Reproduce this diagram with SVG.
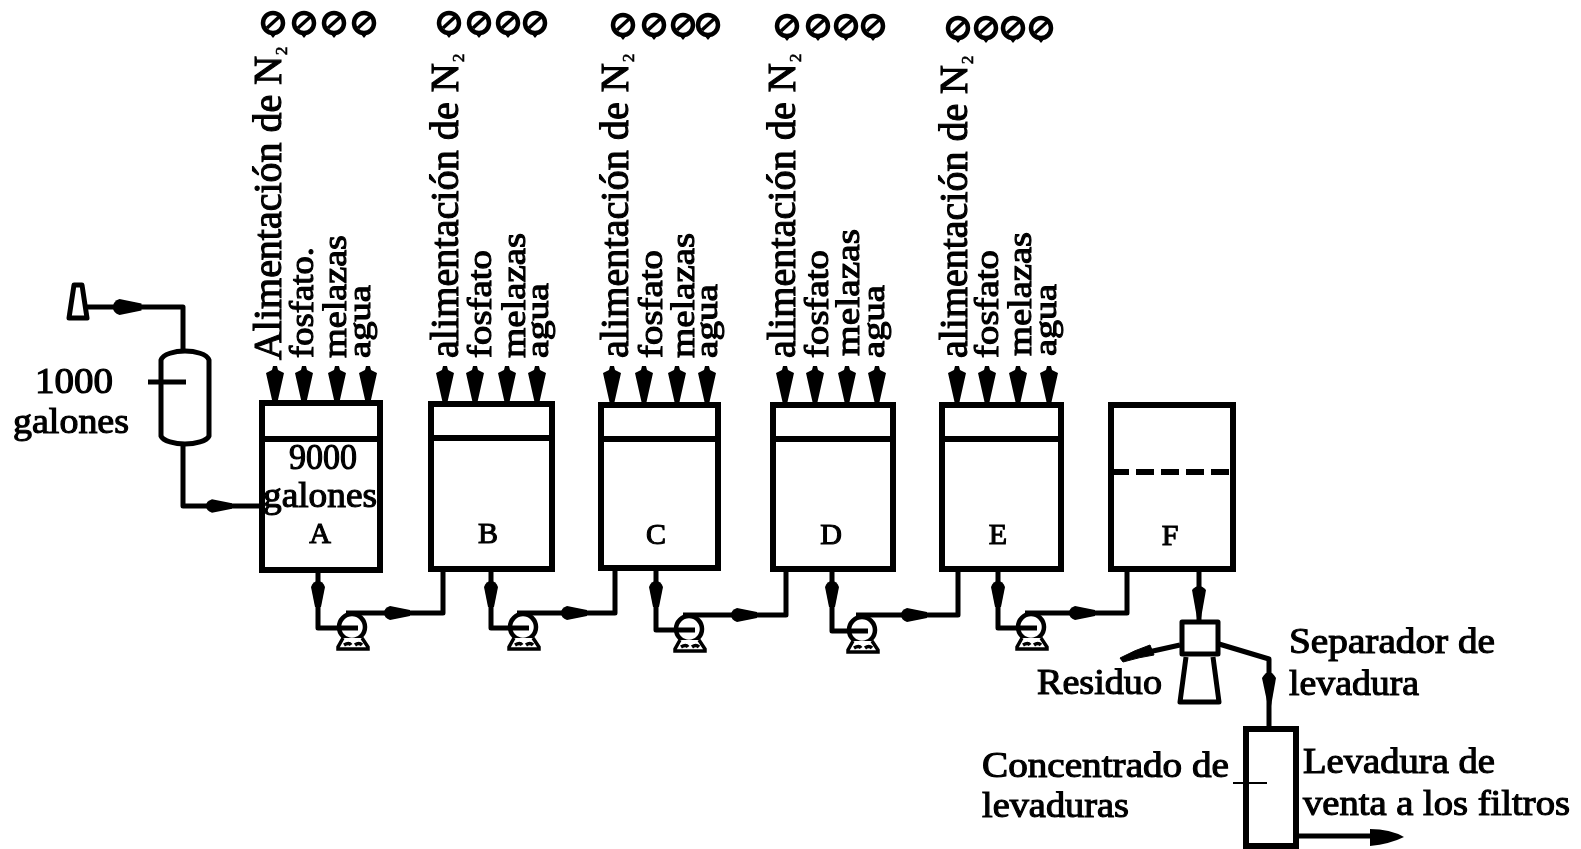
<svg xmlns="http://www.w3.org/2000/svg" width="1581" height="849" viewBox="0 0 1581 849">
<style>
text{font-family:"Liberation Serif","Times New Roman",serif;fill:#000;stroke:#000;stroke-width:1.1}
.a{font-size:39px}.f{font-size:34px}.w{font-size:31px}.l{font-size:35px}.m{text-anchor:middle;font-size:30px}
.s{fill:none;stroke:#000;stroke-width:5;stroke-linejoin:round}
.t{fill:none;stroke:#000;stroke-width:6}
.n{fill:none;stroke:#000;stroke-width:2}
.sub{font-size:28px;stroke-width:.6}
</style>
<defs>
<filter id="b" filterUnits="userSpaceOnUse" x="0" y="0" width="1581" height="849"><feGaussianBlur stdDeviation="0.7"/></filter>
<g id="g"><circle r="10" fill="#fff" stroke="#000" stroke-width="4.5"/><path d="M-6,5L6,-6" stroke="#000" stroke-width="3.5"/><path d="M-4,10L4,10L0,15Z" fill="#000"/></g>
<path id="ad" d="M-2,-37L2,-37L3,-33L9,-30L2.5,-1L-2.5,-1L-9,-30L-3,-33Z" fill="#000"/>
<path id="h" d="M-7,-5Q-5,-11 0,-11Q5,-11 7,-5L3,15H-3Z" fill="#000"/>
<g id="p"><circle r="13" fill="none" stroke="#000" stroke-width="4.5"/><path d="M-9,11L-14,20V22H16V20L10,11M-8,18Q-3,15 -1,18M3,18Q7,15 10,18" fill="#fff" stroke="#000" stroke-width="3.5"/></g>
</defs>
<g filter="url(#b)">
<rect width="1581" height="849" fill="#fff"/>
<g id="connectors">
<path class="s" d="M87,307H183V350"/><use href="#h" transform="translate(125,307) rotate(-90) scale(1.15,1.1)"/>
<path class="s" d="M183,446V506H262"/><use href="#h" transform="translate(217,506) rotate(-90) scale(.95,1)"/>
<path class="s" d="M318,570V628H358"/><use href="#h" transform="translate(318,592)"/>
<path class="s" d="M346,613H443V570"/><use href="#h" transform="translate(395,613) rotate(-90)"/>
<path class="s" d="M491,570V628H529"/><use href="#h" transform="translate(491,592)"/>
<path class="s" d="M517,613H615V570"/><use href="#h" transform="translate(572,613) rotate(-90)"/>
<path class="s" d="M656,570V630H695"/><use href="#h" transform="translate(656,592)"/>
<path class="s" d="M683,615H786V570"/><use href="#h" transform="translate(742,615) rotate(-90)"/>
<path class="s" d="M832,570V631H868"/><use href="#h" transform="translate(832,592)"/>
<path class="s" d="M856,615H958V570"/><use href="#h" transform="translate(912,615) rotate(-90)"/>
<path class="s" d="M998,570V628H1037"/><use href="#h" transform="translate(998,592)"/>
<path class="s" d="M1025,613H1127V570"/><use href="#h" transform="translate(1080,613) rotate(-90)"/>
<path class="s" d="M1199,570V620"/><path d="M1192,590Q1199,582 1206,590L1201,618H1197Z" fill="#000"/>
<path class="s" d="M1180,645L1135,655"/><path d="M1120,658Q1135,650 1150,645L1154,655Q1140,657 1123,662Z" fill="#000" stroke="#000" stroke-width="1"/>
<path class="s" d="M1219,644L1269,659V727"/><path d="M1262,678Q1269,666 1276,678L1271,706H1268Z" fill="#000"/>
<path class="s" d="M1296,836H1375"/><path d="M1370,829Q1390,829 1404,837Q1390,844 1370,846Z" fill="#000"/>
<g id="feeds">
<use href="#ad" x="275" y="403"/><use href="#ad" x="304" y="403"/><use href="#ad" x="337" y="403"/><use href="#ad" x="368" y="403"/>
<use href="#ad" x="445" y="403"/><use href="#ad" x="475" y="403"/><use href="#ad" x="507" y="403"/><use href="#ad" x="537" y="403"/>
<use href="#ad" x="612" y="403"/><use href="#ad" x="644" y="403"/><use href="#ad" x="677" y="403"/><use href="#ad" x="707" y="403"/>
<use href="#ad" x="785" y="403"/><use href="#ad" x="815" y="403"/><use href="#ad" x="847" y="403"/><use href="#ad" x="877" y="403"/>
<use href="#ad" x="957" y="403"/><use href="#ad" x="987" y="403"/><use href="#ad" x="1018" y="403"/><use href="#ad" x="1049" y="403"/>
</g>
</g>
<g id="source"><path class="s" d="M74,285H82L87,318H69Z"/></g>
<g id="vessel"><path class="s" d="M161,360C163,354 175,351 185,351C195,351 207,354 209,360V436C207,441 195,444 185,444C175,444 163,441 161,436Z"/><path class="s" d="M148,382H186"/>
<text class="l" x="35" y="393" textLength="78" lengthAdjust="spacingAndGlyphs">1000</text><text class="l" x="13" y="433" textLength="116" lengthAdjust="spacingAndGlyphs">galones</text></g>
<g id="tank-A"><rect class="t" x="262" y="403" width="118" height="167"/><path class="t" d="M262,439H380"/>
<text class="l" x="289" y="469" textLength="68" lengthAdjust="spacingAndGlyphs">9000</text><text class="l" x="263" y="507" textLength="114" lengthAdjust="spacingAndGlyphs">galones</text><text class="m" x="320" y="543">A</text></g>
<g id="tank-B"><rect class="t" x="431" y="404" width="121" height="165"/><path class="t" d="M431,438H552"/><text class="m" x="488" y="543">B</text></g>
<g id="tank-C"><rect class="t" x="601" y="405" width="117" height="163"/><path class="t" d="M601,439H718"/><text class="m" x="656" y="544">C</text></g>
<g id="tank-D"><rect class="t" x="773" y="405" width="120" height="164"/><path class="t" d="M773,439H893"/><text class="m" x="831" y="544">D</text></g>
<g id="tank-E"><rect class="t" x="942" y="405" width="119" height="164"/><path class="t" d="M942,439H1061"/><text class="m" x="998" y="544">E</text></g>
<g id="tank-F"><rect class="t" x="1111" y="405" width="122" height="164"/><path class="t" d="M1111,472H1233" stroke-dasharray="18 7"/><text class="m" x="1170" y="545">F</text></g>
<g id="pumps"><use href="#p" x="352" y="627"/><use href="#p" x="523" y="627"/><use href="#p" x="689" y="629"/><use href="#p" x="862" y="630"/><use href="#p" x="1031" y="627"/></g>
<g id="gauges-A"><use href="#g" x="273" y="23"/><use href="#g" x="304" y="23"/><use href="#g" x="334" y="23"/><use href="#g" x="364" y="23"/></g>
<g id="gauges-B"><use href="#g" x="449" y="23"/><use href="#g" x="479" y="23"/><use href="#g" x="508" y="23"/><use href="#g" x="535" y="23"/></g>
<g id="gauges-C"><use href="#g" x="623" y="25"/><use href="#g" x="654" y="25"/><use href="#g" x="683" y="25"/><use href="#g" x="708" y="25"/></g>
<g id="gauges-D"><use href="#g" x="787" y="26"/><use href="#g" x="818" y="26"/><use href="#g" x="846" y="26"/><use href="#g" x="873" y="26"/></g>
<g id="gauges-E"><use href="#g" x="958" y="28"/><use href="#g" x="986" y="28"/><use href="#g" x="1013" y="28"/><use href="#g" x="1041" y="28"/></g>
<g id="labels-A">
<text class="a" transform="translate(281,360) rotate(-90)" textLength="314" lengthAdjust="spacingAndGlyphs">Alimentación de N<tspan class="sub">₂</tspan></text>
<text class="f" transform="translate(313,358) rotate(-90)" textLength="111" lengthAdjust="spacingAndGlyphs">fosfato.</text>
<text class="f" transform="translate(346,358) rotate(-90)" textLength="123" lengthAdjust="spacingAndGlyphs">melazas</text>
<text class="w" transform="translate(370,358) rotate(-90)" textLength="73" lengthAdjust="spacingAndGlyphs">agua</text></g>
<g id="labels-B">
<text class="a" transform="translate(458,358) rotate(-90)" textLength="305" lengthAdjust="spacingAndGlyphs">alimentación de N<tspan class="sub">₂</tspan></text>
<text class="f" transform="translate(491,358) rotate(-90)" textLength="108" lengthAdjust="spacingAndGlyphs">fosfato</text>
<text class="f" transform="translate(525,358) rotate(-90)" textLength="125" lengthAdjust="spacingAndGlyphs">melazas</text>
<text class="w" transform="translate(548,358) rotate(-90)" textLength="75" lengthAdjust="spacingAndGlyphs">agua</text></g>
<g id="labels-C">
<text class="a" transform="translate(628,358) rotate(-90)" textLength="305" lengthAdjust="spacingAndGlyphs">alimentación de N<tspan class="sub">₂</tspan></text>
<text class="f" transform="translate(662,358) rotate(-90)" textLength="108" lengthAdjust="spacingAndGlyphs">fosfato</text>
<text class="f" transform="translate(694,358) rotate(-90)" textLength="125" lengthAdjust="spacingAndGlyphs">melazas</text>
<text class="w" transform="translate(717,358) rotate(-90)" textLength="74" lengthAdjust="spacingAndGlyphs">agua</text></g>
<g id="labels-D">
<text class="a" transform="translate(795,358) rotate(-90)" textLength="305" lengthAdjust="spacingAndGlyphs">alimentación de N<tspan class="sub">₂</tspan></text>
<text class="f" transform="translate(828,358) rotate(-90)" textLength="108" lengthAdjust="spacingAndGlyphs">fosfato</text>
<text class="f" transform="translate(859,356) rotate(-90)" textLength="127" lengthAdjust="spacingAndGlyphs">melazas</text>
<text class="w" transform="translate(884,358) rotate(-90)" textLength="73" lengthAdjust="spacingAndGlyphs">agua</text></g>
<g id="labels-E">
<text class="a" transform="translate(967,358) rotate(-90)" textLength="303" lengthAdjust="spacingAndGlyphs">alimentación de N<tspan class="sub">₂</tspan></text>
<text class="f" transform="translate(998,358) rotate(-90)" textLength="108" lengthAdjust="spacingAndGlyphs">fosfato</text>
<text class="f" transform="translate(1031,356) rotate(-90)" textLength="124" lengthAdjust="spacingAndGlyphs">melazas</text>
<text class="w" transform="translate(1056,356) rotate(-90)" textLength="72" lengthAdjust="spacingAndGlyphs">agua</text></g>
<g id="separator"><rect class="s" x="1182" y="622" width="36" height="32"/><path class="s" d="M1186,657L1180,702H1219L1213,657"/>
<text class="l" x="1037" y="694" textLength="125" lengthAdjust="spacingAndGlyphs">Residuo</text>
<text class="l" x="1289" y="653" textLength="206" lengthAdjust="spacingAndGlyphs">Separador de</text>
<text class="l" x="1289" y="695" textLength="130" lengthAdjust="spacingAndGlyphs">levadura</text></g>
<g id="concentrator"><rect class="t" x="1246" y="729" width="50" height="117"/><path class="n" d="M1233,783H1267"/>
<text class="l" x="982" y="777" textLength="247" lengthAdjust="spacingAndGlyphs">Concentrado de</text>
<text class="l" x="982" y="817" textLength="147" lengthAdjust="spacingAndGlyphs">levaduras</text>
<text class="l" x="1303" y="773" textLength="192" lengthAdjust="spacingAndGlyphs">Levadura de</text>
<text class="l" x="1303" y="815" textLength="267" lengthAdjust="spacingAndGlyphs">venta a los filtros</text></g>
</g>
</svg>
